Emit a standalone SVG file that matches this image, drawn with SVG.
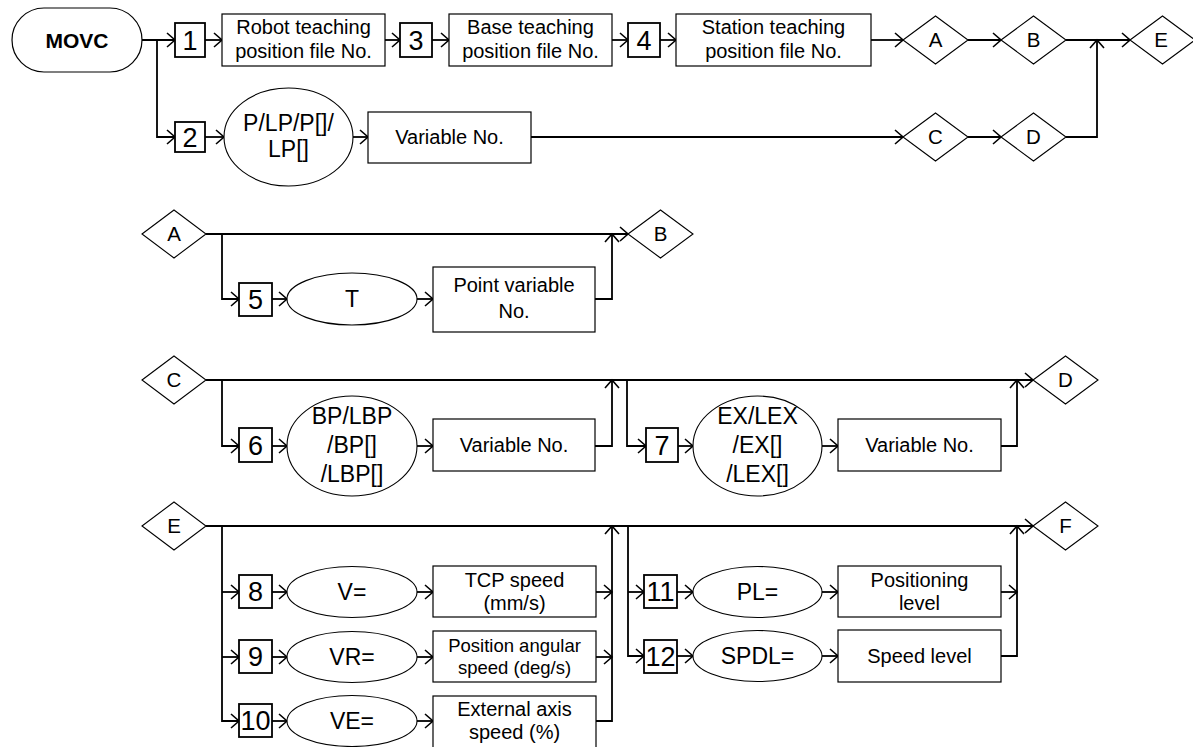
<svg xmlns="http://www.w3.org/2000/svg" width="1193" height="747" viewBox="0 0 1193 747">
<style>
text{font-family:"Liberation Sans",Arial,sans-serif;fill:#000;text-anchor:middle}
.t{font-size:20px}
.ts{font-size:18.5px}
.el{font-size:23px}
.dg{font-size:27px}
.dl{font-size:20.5px}
.mv{font-size:21px;font-weight:bold}
.box{fill:#fff;stroke:#000;stroke-width:1.2}
.nb{fill:#fff;stroke:#000;stroke-width:1.8}
.ell{fill:#fff;stroke:#000;stroke-width:1.1}
.dia{fill:#fff;stroke:#000;stroke-width:1.1}
.c path{fill:none;stroke:#000;stroke-width:1.8}
.a{marker-end:url(#ah)}
</style>
<defs>
<marker id="ah" viewBox="-10 -10 12 20" refX="0" refY="0" markerWidth="12" markerHeight="20" markerUnits="userSpaceOnUse" orient="auto">
<path d="M-8,-7 L0,0 L-8,7" fill="none" stroke="#000" stroke-width="1.6"/>
</marker>
</defs>
<rect width="1193" height="747" fill="#fff"/>

<g id="connectors" class="c">
<!-- top -->
<path class="a" d="M142,40 H175"/>
<path class="a" d="M157,40 V137 H175"/>
<path class="a" d="M205,40 H222"/>
<path class="a" d="M385,40 H400"/>
<path class="a" d="M432,40 H449"/>
<path class="a" d="M612,40 H628"/>
<path class="a" d="M660,40 H676"/>
<path class="a" d="M871,40 H903"/>
<path class="a" d="M968,40 H1001"/>
<path class="a" d="M1066,40 H1130"/>
<path class="a" d="M1066,137 H1097 V40"/>
<path class="a" d="M205,137 H224"/>
<path class="a" d="M353,137 H368"/>
<path class="a" d="M531,137 H903"/>
<path class="a" d="M968,137 H1001"/>
<!-- section A -->
<path class="a" d="M206,234 H628"/>
<path class="a" d="M222,234 V299 H239"/>
<path class="a" d="M272,299 H287"/>
<path class="a" d="M417,299 H433"/>
<path class="a" d="M595,299 H612 V234"/>
<!-- section C -->
<path class="a" d="M206,380 H1033"/>
<path class="a" d="M222,380 V446 H239"/>
<path class="a" d="M272,446 H287"/>
<path class="a" d="M417,446 H433"/>
<path class="a" d="M595,446 H612 V380"/>
<path class="a" d="M627,380 V446 H646"/>
<path class="a" d="M678,446 H693"/>
<path class="a" d="M822,446 H838"/>
<path class="a" d="M1001,446 H1017 V380"/>
<!-- section E -->
<path class="a" d="M206,526 H1033"/>
<path class="a" d="M222,526 V721 H239"/>
<path class="a" d="M222,592 H239"/>
<path class="a" d="M222,657 H239"/>
<path class="a" d="M272,592 H287"/>
<path class="a" d="M272,657 H287"/>
<path class="a" d="M272,721 H287"/>
<path class="a" d="M417,592 H433"/>
<path class="a" d="M417,657 H433"/>
<path class="a" d="M417,721 H433"/>
<path class="a" d="M596,592 H612"/>
<path class="a" d="M596,657 H612"/>
<path class="a" d="M596,721 H612 V526"/>
<path class="a" d="M628,526 V656 H644"/>
<path class="a" d="M628,592 H644"/>
<path class="a" d="M677,592 H693"/>
<path class="a" d="M677,656 H693"/>
<path class="a" d="M822,592 H838"/>
<path class="a" d="M822,656 H838"/>
<path class="a" d="M1001,592 H1017"/>
<path class="a" d="M1001,656 H1017 V526"/>
</g>

<!-- top row -->
<g id="movc"><rect x="12" y="8" width="130" height="64" rx="32" class="box"/><text x="77" y="47.5" class="mv">MOVC</text></g>
<g id="n1"><rect x="175" y="23" width="30" height="34" class="nb"/><text x="190" y="49.5" class="dg">1</text></g>
<g id="robot"><rect x="222" y="14" width="163" height="52" class="box"/><text x="303.5" y="34" class="t">Robot teaching</text><text x="303.5" y="58" class="t">position file No.</text></g>
<g id="n3"><rect x="400" y="23" width="32" height="34" class="nb"/><text x="416" y="49.5" class="dg">3</text></g>
<g id="base"><rect x="449" y="14" width="163" height="52" class="box"/><text x="530.5" y="34" class="t">Base teaching</text><text x="530.5" y="58" class="t">position file No.</text></g>
<g id="n4"><rect x="628" y="23" width="32" height="34" class="nb"/><text x="644" y="49.5" class="dg">4</text></g>
<g id="station"><rect x="676" y="14" width="195" height="52" class="box"/><text x="773.5" y="34" class="t">Station teaching</text><text x="773.5" y="58" class="t">position file No.</text></g>
<g id="dA1"><polygon points="903,40 935.5,16 968,40 935.5,64" class="dia"/><text x="935.5" y="47" class="dl">A</text></g>
<g id="dB1"><polygon points="1001,40 1033.5,16 1066,40 1033.5,64" class="dia"/><text x="1033.5" y="47" class="dl">B</text></g>
<g id="dE1"><polygon points="1130,40 1162.5,16 1195,40 1162.5,64" class="dia"/><text x="1161" y="47" class="dl">E</text></g>
<g id="n2"><rect x="175" y="122" width="30" height="30" class="nb"/><text x="190" y="146.5" class="dg">2</text></g>
<g id="plp"><ellipse cx="288.5" cy="137" rx="64.5" ry="49" class="ell"/><text x="288.5" y="131" class="el">P/LP/P[]/</text><text x="288.5" y="157" class="el">LP[]</text></g>
<g id="var1"><rect x="368" y="112" width="163" height="51" class="box"/><text x="449.5" y="144" class="t">Variable No.</text></g>
<g id="dC1"><polygon points="903,137 935.5,113 968,137 935.5,161" class="dia"/><text x="935.5" y="144" class="dl">C</text></g>
<g id="dD1"><polygon points="1001,137 1033.5,113 1066,137 1033.5,161" class="dia"/><text x="1033.5" y="144" class="dl">D</text></g>

<!-- section A -->
<g id="dA2"><polygon points="142,234 174,210 206,234 174,258" class="dia"/><text x="174" y="241" class="dl">A</text></g>
<g id="dB2"><polygon points="628,234 660.5,210 693,234 660.5,258" class="dia"/><text x="660.5" y="241" class="dl">B</text></g>
<g id="n5"><rect x="239" y="283" width="33" height="33" class="nb"/><text x="255.5" y="308.5" class="dg">5</text></g>
<g id="elT"><ellipse cx="352" cy="299" rx="65" ry="26" class="ell"/><text x="352" y="307" class="el">T</text></g>
<g id="pvar"><rect x="433" y="267" width="162" height="65" class="box"/><text x="514" y="292" class="t">Point variable</text><text x="514" y="318" class="t">No.</text></g>

<!-- section C -->
<g id="dC2"><polygon points="142,380 174,356 206,380 174,404" class="dia"/><text x="174" y="387" class="dl">C</text></g>
<g id="dD2"><polygon points="1033,380 1065.5,356 1098,380 1065.5,404" class="dia"/><text x="1065.5" y="387" class="dl">D</text></g>
<g id="n6"><rect x="239" y="428" width="33" height="34" class="nb"/><text x="255.5" y="454.5" class="dg">6</text></g>
<g id="elBP"><ellipse cx="352" cy="446" rx="65" ry="50" class="ell"/><text x="352" y="424" class="el">BP/LBP</text><text x="352" y="453" class="el">/BP[]</text><text x="352" y="482" class="el">/LBP[]</text></g>
<g id="var2"><rect x="433" y="419" width="162" height="52" class="box"/><text x="514" y="452" class="t">Variable No.</text></g>
<g id="n7"><rect x="646" y="428" width="32" height="34" class="nb"/><text x="662" y="454.5" class="dg">7</text></g>
<g id="elEX"><ellipse cx="757.5" cy="446" rx="64.5" ry="50" class="ell"/><text x="757.5" y="424" class="el">EX/LEX</text><text x="757.5" y="453" class="el">/EX[]</text><text x="757.5" y="482" class="el">/LEX[]</text></g>
<g id="var3"><rect x="838" y="419" width="163" height="52" class="box"/><text x="919.5" y="452" class="t">Variable No.</text></g>

<!-- section E -->
<g id="dE2"><polygon points="142,526 174,502 206,526 174,550" class="dia"/><text x="174" y="533" class="dl">E</text></g>
<g id="dF"><polygon points="1033,526 1065.5,502 1098,526 1065.5,550" class="dia"/><text x="1065.5" y="533" class="dl">F</text></g>
<g id="n8"><rect x="239" y="575" width="33" height="33" class="nb"/><text x="255.5" y="601" class="dg">8</text></g>
<g id="elV"><ellipse cx="352" cy="592" rx="65" ry="25.5" class="ell"/><text x="352" y="600" class="el">V=</text></g>
<g id="tcp"><rect x="433" y="566" width="163" height="51" class="box"/><text x="514.5" y="587" class="t">TCP speed</text><text x="514.5" y="610" class="t">(mm/s)</text></g>
<g id="n9"><rect x="239" y="640" width="33" height="33" class="nb"/><text x="255.5" y="666" class="dg">9</text></g>
<g id="elVR"><ellipse cx="352" cy="657" rx="65" ry="25.5" class="ell"/><text x="352" y="665" class="el">VR=</text></g>
<g id="pas"><rect x="433" y="631" width="163" height="51" class="box"/><text x="514.5" y="652" class="ts">Position angular</text><text x="514.5" y="674" class="ts">speed (deg/s)</text></g>
<g id="n10"><rect x="239" y="704" width="33" height="33" class="nb"/><text x="255.5" y="730" class="dg">10</text></g>
<g id="elVE"><ellipse cx="352" cy="721" rx="65" ry="25.5" class="ell"/><text x="352" y="729" class="el">VE=</text></g>
<g id="ext"><rect x="433" y="696" width="163" height="54" class="box"/><text x="514.5" y="716" class="t">External axis</text><text x="514.5" y="739" class="t">speed (%)</text></g>
<g id="n11"><rect x="644" y="575" width="33" height="33" class="nb"/><text x="660.5" y="601" class="dg">11</text></g>
<g id="elPL"><ellipse cx="757.5" cy="592" rx="64.5" ry="25.5" class="ell"/><text x="757.5" y="600" class="el">PL=</text></g>
<g id="posl"><rect x="838" y="566" width="163" height="51" class="box"/><text x="919.5" y="587" class="t">Positioning</text><text x="919.5" y="610" class="t">level</text></g>
<g id="n12"><rect x="644" y="640" width="33" height="33" class="nb"/><text x="660.5" y="666" class="dg">12</text></g>
<g id="elSP"><ellipse cx="757.5" cy="656" rx="64.5" ry="25.5" class="ell"/><text x="757.5" y="664" class="el">SPDL=</text></g>
<g id="spl"><rect x="838" y="630" width="163" height="52" class="box"/><text x="919.5" y="663" class="t">Speed level</text></g>
</svg>
